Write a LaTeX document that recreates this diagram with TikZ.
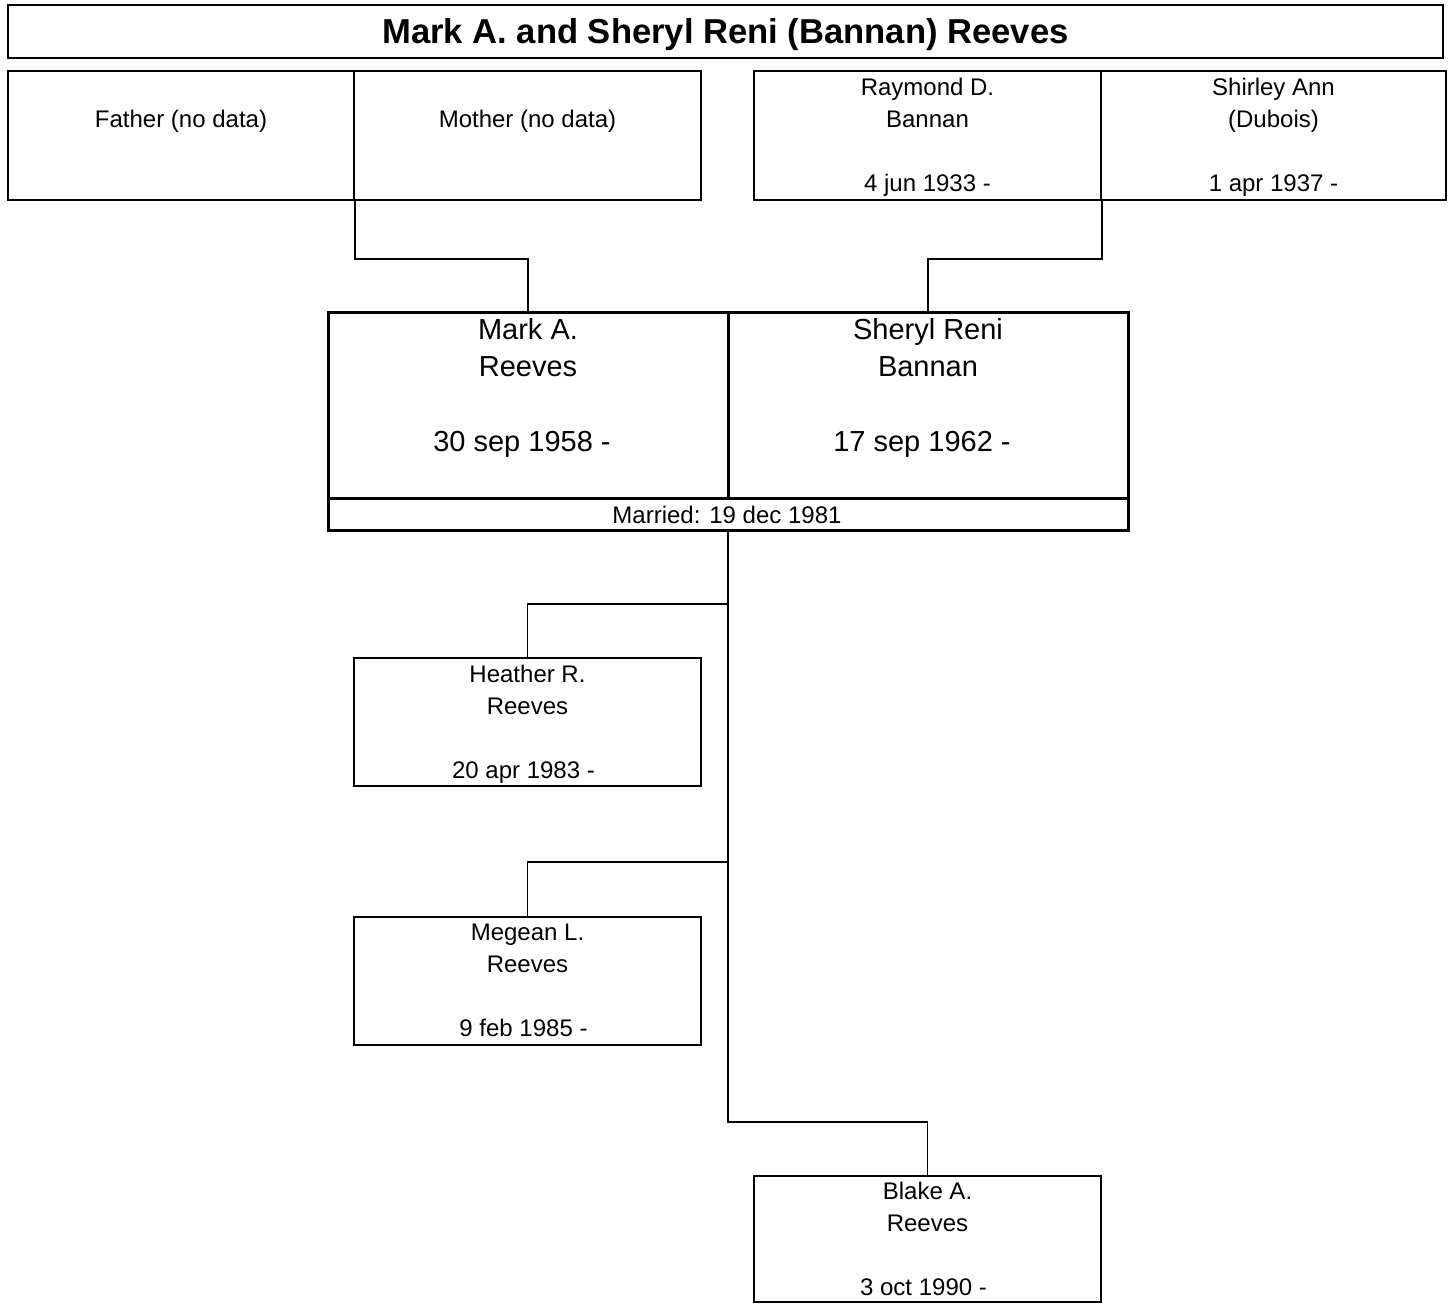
\documentclass[tikz,border=0pt]{standalone}
\usepackage{fontspec}
\setmainfont{Liberation Sans}
\usetikzlibrary{fit}
\begin{document}
\begin{tikzpicture}[x=0.5pt,y=-0.5pt,
  box/.style={draw,line width=0.8pt,inner sep=0pt,fit={#1}},
  cbox/.style={draw,line width=1.5pt,inner sep=0pt,fit={#1}},
  tbox/.style={draw,line width=1.4pt,inner sep=0pt,fit={#1}},
  small/.style={anchor=base,inner sep=0pt,font=\fontsize{12pt}{14pt}\selectfont},
  big/.style={anchor=base,inner sep=0pt,font=\fontsize{14.5pt}{16pt}\selectfont},
  ttl/.style={anchor=base,inner sep=0pt,font=\fontsize{17.3pt}{20pt}\selectfont\bfseries},
  link/.style={draw,line width=0.9pt}]
\useasboundingbox (0,0) rectangle (1451,1303);
% title
\node[tbox={(8,5)(1443,58)}] (title) {};
\node[ttl] (titletxt) at (725.5,43.5) {Mark A. and Sheryl Reni (Bannan) Reeves};
% parents of Mark
\node[box={(8,71)(354,200)}] (fa) {};
\node[box={(354,71)(701,200)}] (mo) {};
\node[small] (fat) at (181,127.5) {Father (no data)};
\node[small] (mot) at (527.5,127.5) {Mother (no data)};
% parents of Sheryl
\node[box={(754,71)(1101,200)}] (ray) {};
\node[box={(1101,71)(1446,200)}] (shi) {};
\node[small] (ray1) at (927.5,95.5) {Raymond D.};
\node[small] (ray2) at (927.5,127.5) {Bannan};
\node[small] (ray3) at (927.5,191.5) {4 jun 1933 -};
\node[small] (shi1) at (1273.5,95.5) {Shirley Ann};
\node[small] (shi2) at (1273.5,127.5) {(Dubois)};
\node[small] (shi3) at (1273.5,191.5) {1 apr 1937 -};
% couple
\node[cbox={(328,312)(728,498)}] (mark) {};
\node[cbox={(728,312)(1128,498)}] (sheryl) {};
\node[cbox={(328,498)(1128,530)}] (married) {};
\node[big] (mark1) at (528,339) {Mark A.};
\node[big] (mark2) at (528,376) {Reeves};
\node[big] (mark3) at (522,451) {30 sep 1958 -};
\node[big] (sh1) at (928,339) {Sheryl Reni};
\node[big] (sh2) at (928,376) {Bannan};
\node[big] (sh3) at (922,451) {17 sep 1962 -};
\node[small] (mar) at (727,523.5) {Married: 19 dec 1981};
% children
\node[box={(354,658)(701,786)}] (heather) {};
\node[small] (he1) at (527.5,682.5) {Heather R.};
\node[small] (he2) at (527.5,714.5) {Reeves};
\node[small] (he3) at (523.5,778.5) {20 apr 1983 -};
\node[box={(354,917)(701,1045)}] (megean) {};
\node[small] (me1) at (527.5,940.5) {Megean L.};
\node[small] (me2) at (527.5,972.5) {Reeves};
\node[small] (me3) at (523.5,1036.5) {9 feb 1985 -};
\node[box={(754,1176)(1101,1302)}] (blake) {};
\node[small] (bl1) at (927.5,1199.5) {Blake A.};
\node[small] (bl2) at (927.5,1231.5) {Reeves};
\node[small] (bl3) at (923.5,1295.5) {3 oct 1990 -};
% connectors
\draw[link] (fa.south east) -- ++(0,58) -| (mark.north);
\draw[link] (ray.south east) -- ++(0,58) -| (sheryl.north);
\coordinate (j1) at (728,604);
\coordinate (j2) at (728,862);
\coordinate (j3) at (728,1122);
\draw[link] (married.south) -- (j3) -| (blake.north);
\draw[link] (j1) -| (heather.north);
\draw[link] (j2) -| (megean.north);
\end{tikzpicture}
\end{document}
